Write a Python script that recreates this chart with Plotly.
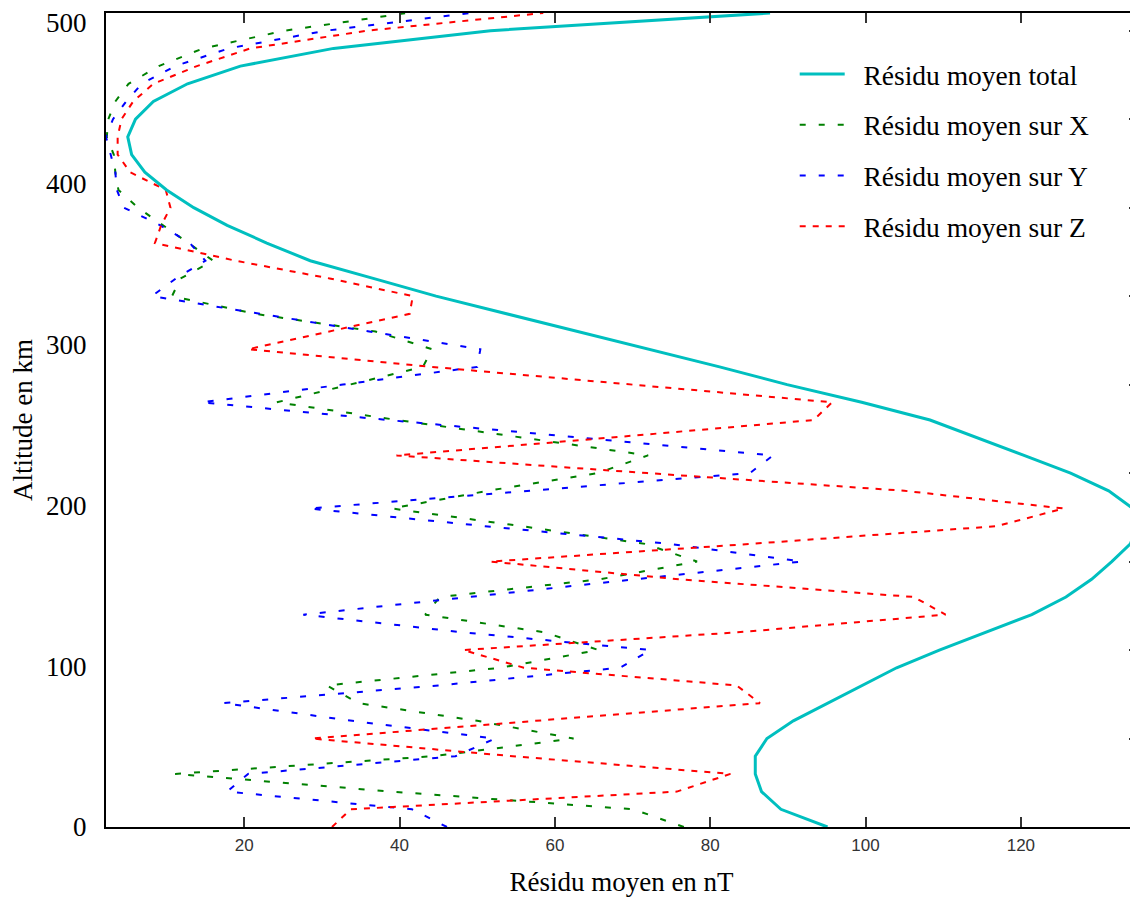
import plotly.graph_objects as go

# Altitude levels (km)
altitude = [0, 11, 22, 33, 44, 55, 66, 77, 88, 99, 110, 121, 132, 143, 154, 165,
            176, 187, 198, 209, 220, 231, 242, 253, 264, 275, 286, 297, 308, 319,
            330, 341, 352, 363, 374, 385, 396, 407, 418, 429, 440, 451, 462, 473,
            484, 495, 506]

# Mean residuals (nT)
res_total = [95.1, 89.1, 86.6, 85.8, 85.8, 87.3, 90.7, 95.2, 99.6, 104.0, 109.5,
             115.4, 121.4, 125.8, 129.1, 131.7, 134.1, 134.95, 134.4, 131.3, 126.4,
             120.4, 114.3, 108.3, 99.5, 89.9, 81.2, 72.0, 62.9, 53.8, 44.7, 36.6,
             28.5, 22.9, 17.8, 13.5, 10.0, 7.2, 5.5, 5.0, 6.0, 8.3, 12.7, 19.5,
             31.5, 51.7, 87.7]

res_x = [76.6, 70.1, 39.0, 11.1, 44.3, 62.4, 50.0, 34.7, 30.6, 53.0, 65.6, 58.7,
         43.3, 45.2, 65.8, 78.3, 71.6, 55.7, 39.0, 51.4, 65.5, 72.0, 55.9, 39.7,
         24.2, 33.8, 43.0, 44.2, 36.9, 21.4, 10.7, 11.8, 16.0, 12.8, 9.6, 6.3,
         3.8, 3.4, 3.2, 2.3, 2.5, 3.4, 5.1, 9.0, 14.7, 25.2, 40.9]

res_y = [46.1, 41.6, 17.8, 20.5, 47.2, 52.3, 33.9, 17.3, 45.0, 68.4, 72.3, 48.2,
         27.6, 49.0, 70.3, 91.8, 74.8, 51.0, 28.3, 56.8, 85.1, 88.1, 62.8, 38.5,
         14.5, 32.7, 50.0, 50.4, 36.1, 22.3, 8.1, 11.2, 15.0, 13.0, 9.2, 4.5,
         3.6, 3.4, 2.8, 2.2, 3.1, 4.8, 6.8, 11.1, 18.0, 30.5, 49.1]

res_z = [31.3, 33.7, 75.7, 82.6, 54.6, 28.7, 57.5, 86.4, 83.4, 56.0, 48.2, 83.5,
         110.3, 106.2, 76.0, 51.7, 85.2, 116.9, 125.5, 105.0, 71.9, 39.6, 67.0,
         93.3, 95.7, 69.8, 44.2, 20.5, 30.8, 41.3, 41.7, 31.0, 18.9, 8.5, 9.3,
         10.5, 9.9, 5.3, 3.7, 3.7, 4.2, 5.7, 8.3, 13.9, 20.8, 35.8, 58.5]

x_ticks = [20, 40, 60, 80, 100, 120]
y_ticks = [0, 100, 200, 300, 400, 500]
y_right_ticks = [55, 110, 165, 220, 275, 330, 385, 440, 495]

names = ["Résidu moyen total", "Résidu moyen sur X", "Résidu moyen sur Y", "Résidu moyen sur Z"]
PAD = "\u00a0\u00a0"

SERIF = "Liberation Serif, Times New Roman, serif"
SANS = "Liberation Sans, Arial, sans-serif"

fig = go.Figure()
fig.add_trace(go.Scatter(x=res_x, y=altitude, mode="lines", name=PAD + names[1],
                         legendgroup="x", legendrank=2,
                         line=dict(color="#008000", width=2, dash="6px,13px")))
fig.add_trace(go.Scatter(x=res_y, y=altitude, mode="lines", name=PAD + names[2],
                         legendgroup="y", legendrank=3,
                         line=dict(color="#0000FF", width=2, dash="6px,13px")))
fig.add_trace(go.Scatter(x=res_z, y=altitude, mode="lines", name=PAD + names[3],
                         legendgroup="z", legendrank=4,
                         line=dict(color="#FF0000", width=2, dash="6px,7px")))
fig.add_trace(go.Scatter(x=res_total, y=altitude, mode="lines", name=PAD + names[0],
                         legendgroup="t", legendrank=1,
                         line=dict(color="#00BFBF", width=3)))
# helper trace so the right-hand axis is drawn
fig.add_trace(go.Scatter(x=[None], y=[None], yaxis="y2", showlegend=False,
                         hoverinfo="skip"))

all_vals = res_total + res_x + res_y + res_z
xmin, xmax = min(all_vals), max(all_vals)
ymin, ymax = min(altitude), max(altitude)

# The page body has an 8px margin, so the figure is sized/offset to compensate.
fig.update_layout(
    width=1130, height=889,
    margin=dict(l=98, r=1, t=5, b=70, autoexpand=False),
    paper_bgcolor="white", plot_bgcolor="white",
    showlegend=True,
    legend=dict(x=0.668, y=0.955, xanchor="left", yanchor="top",
                font=dict(family=SERIF, size=27.5, color="black"),
                bgcolor="rgba(0,0,0,0)", tracegroupgap=12, itemwidth=45),
    xaxis=dict(range=[xmin, xmax], tickvals=x_ticks, ticks="inside", ticklen=10,
               tickwidth=1.5, tickcolor="#333", showline=True, linecolor="black",
               linewidth=2, mirror="ticks", showgrid=False, zeroline=False,
               automargin=False, ticklabelstandoff=2,
               tickfont=dict(family=SANS, size=17, color="#333"),
               title=dict(text="Résidu moyen en nT", standoff=22,
                          font=dict(family=SERIF, size=27, color="black"))),
    yaxis=dict(range=[ymin, ymax], tickvals=y_ticks, ticks="", showline=True,
               linecolor="black", linewidth=2, mirror=False, showgrid=False,
               zeroline=False, automargin=False, ticklabelstandoff=12,
               tickfont=dict(family=SERIF, size=27, color="black"),
               title=dict(text="Altitude en km", standoff=12,
                          font=dict(family=SERIF, size=27, color="black"))),
    yaxis2=dict(overlaying="y", side="right", range=[ymin, ymax],
                tickvals=y_right_ticks, ticks="inside", ticklen=8, tickwidth=1.5,
                tickcolor="#333", showticklabels=False, showline=False,
                showgrid=False, zeroline=False, automargin=False),
)

fig.write_html("out.html")
